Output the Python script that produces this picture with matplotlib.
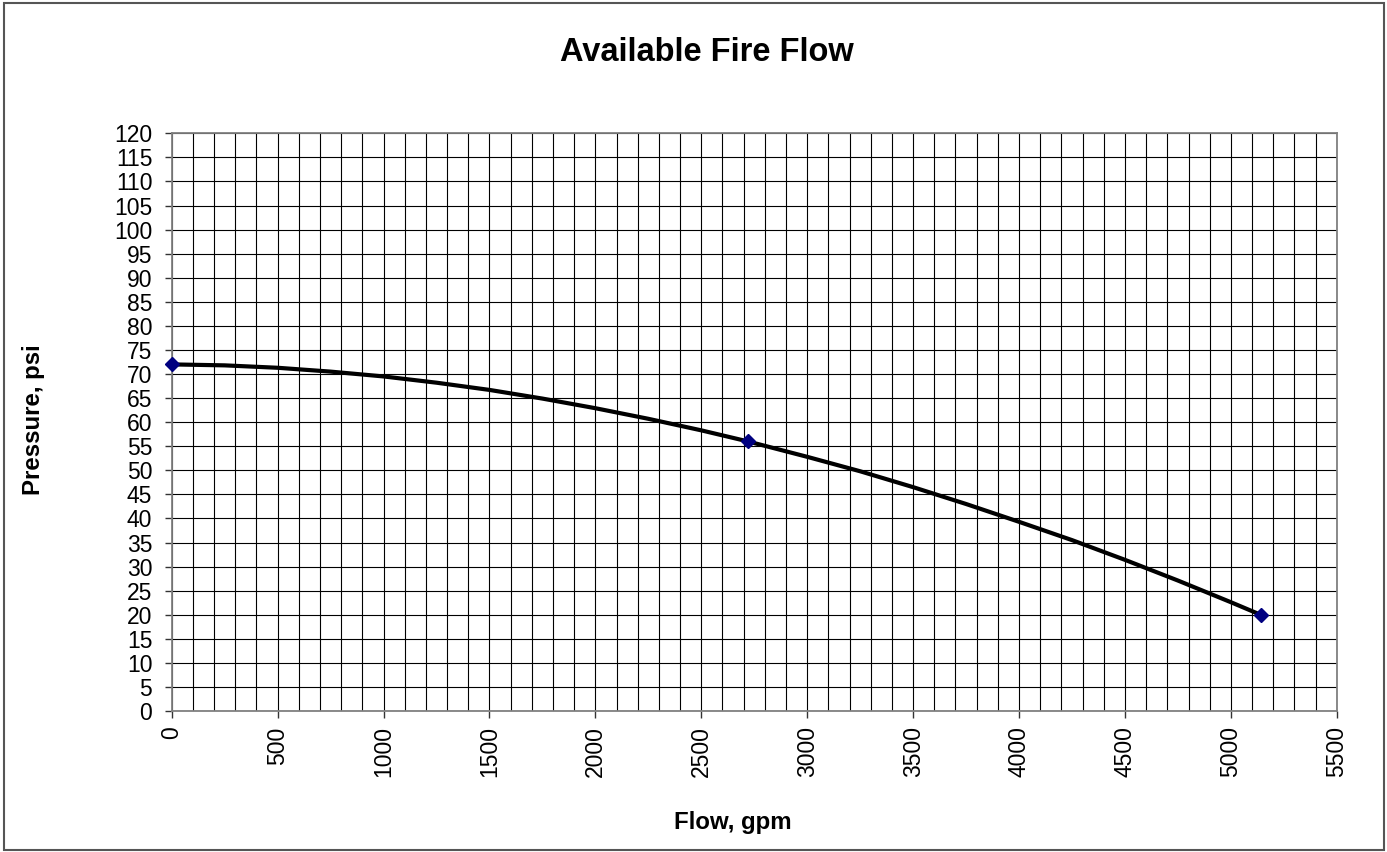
import matplotlib.pyplot as plt
from matplotlib.patches import Rectangle
from matplotlib.ticker import MultipleLocator

# test points (markers)
test_flow = [0, 2720, 5140]
test_pressure = [72, 56, 20]

# curve
curve_flow = [0, 250, 500, 750, 1000, 1250, 1500, 1750, 2000, 2250, 2500, 2720,
              3000, 3250, 3500, 3750, 4000, 4250, 4500, 4750, 5000, 5140]
curve_pressure = [72, 71.8, 71.3, 70.5, 69.5, 68.2, 66.7, 64.9, 62.9, 60.7, 58.3, 56,
                  52.8, 49.8, 46.5, 43.0, 39.3, 35.5, 31.4, 27.1, 22.6, 20]

plt.rcParams['font.family'] = ['Liberation Sans', 'DejaVu Sans']

fig = plt.figure(figsize=(13.87, 8.52), dpi=100)
ax = fig.add_axes([0.1238, 0.1655, 0.84, 0.678])

ax.plot(curve_flow, curve_pressure, color='black', lw=3, solid_capstyle='round', zorder=3)
ax.plot(test_flow, test_pressure, 'D', color='#000080', ms=7, zorder=4, clip_on=False)

ax.set_xlim(0, 5500)
ax.set_ylim(0, 120)
ax.xaxis.set_major_locator(MultipleLocator(500))
ax.xaxis.set_minor_locator(MultipleLocator(100))
ax.yaxis.set_major_locator(MultipleLocator(5))

ax.grid(which='both', color='black', lw=0.8)
ax.set_axisbelow(True)
for s in ax.spines.values():
    s.set_color('#808080')
    s.set_linewidth(1.3)

ax.tick_params(axis='x', which='major', length=5, width=1, color='#333333',
               labelsize=16.5, labelrotation=90, pad=6)
ax.tick_params(axis='x', which='minor', length=0)
ax.tick_params(axis='y', length=5, width=1, color='#333333', labelsize=16.5, pad=9)

fig.text(0.510, 0.938, 'Available Fire Flow', ha='center', va='center',
         fontsize=23.5, fontweight='bold')
fig.text(0.0238, 0.508, 'Pressure, psi', ha='center', va='center', rotation=90,
         fontsize=17.3, fontweight='bold')
fig.text(0.528, 0.035, 'Flow, gpm', ha='center', va='center',
         fontsize=17.3, fontweight='bold')

# chart border
fig.patches.append(Rectangle((0.003, 0.002), 0.995, 0.994, transform=fig.transFigure,
                             fill=False, edgecolor='#555555', lw=1.5))

fig.savefig('out.png', dpi=100)
